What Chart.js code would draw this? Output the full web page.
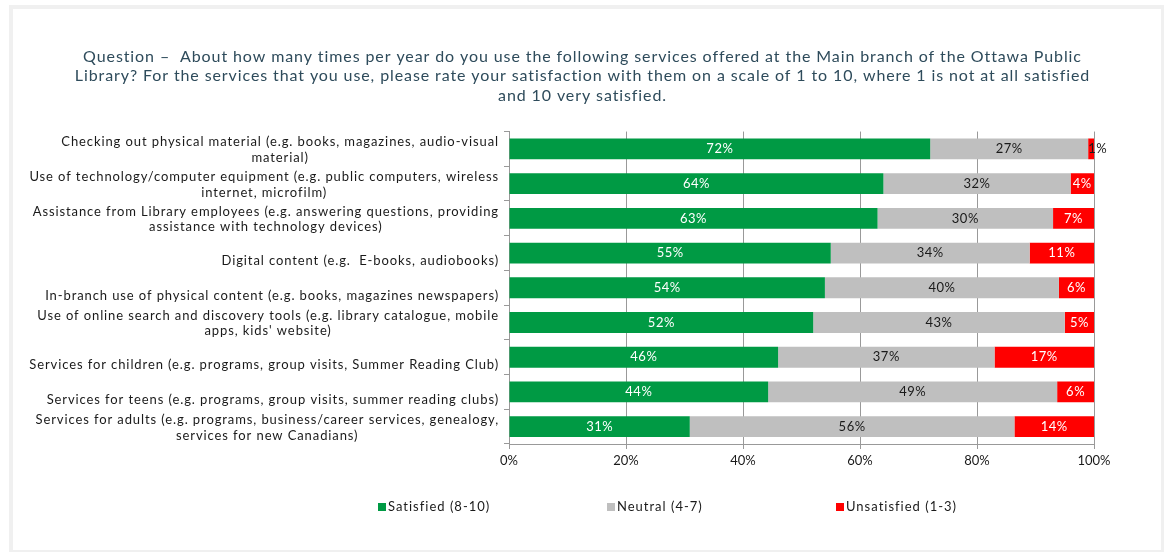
<!DOCTYPE html>
<html>
<head>
<meta charset="utf-8">
<script src="https://cdn.jsdelivr.net/npm/chart.js@4.4.1/dist/chart.umd.min.js"></script>
<style>
    body { margin: 0; background: #fff; width: 1165px; height: 552px; overflow: hidden; position: relative; font-family: Lato, sans-serif; }
    #moldura { position: absolute; left: 9px; top: 5px; width: 1155px; height: 547px; box-sizing: border-box;
               border-style: solid; border-color: #f0f0f0; border-width: 4px 3px 2px 4px; }
    #grafico { position: absolute; left: 0; top: 0; }
    #legenda { position: absolute; left: 378px; top: 499px; display: flex; font-size: 13px; line-height: 15px;
               letter-spacing: 1px; color: #1a1a1a; }
    #legenda .item { width: 229px; display: flex; align-items: center; }
    #legenda .cor { width: 8px; height: 8px; margin-right: 2px; }
</style>
</head>
<body>
<div id="moldura"></div>
<canvas id="grafico" width="1165" height="552"></canvas>
<div id="legenda"></div>
<script>
    // Dados do gráfico
    var titulo = [
        'Question –  About how many times per year do you use the following services offered at the Main branch of the Ottawa Public',
        'Library? For the services that you use, please rate your satisfaction with them on a scale of 1 to 10, where 1 is not at all satisfied',
        'and 10 very satisfied.'
    ];
    var categorias = [
        ['Checking out physical material (e.g. books, magazines, audio-visual', 'material)'],
        ['Use of technology/computer equipment (e.g. public computers, wireless', 'internet, microfilm)'],
        ['Assistance from Library employees (e.g. answering questions, providing', 'assistance with technology devices)'],
        'Digital content (e.g.  E-books, audiobooks)',
        'In-branch use of physical content (e.g. books, magazines newspapers)',
        ['Use of online search and discovery tools (e.g. library catalogue, mobile', 'apps, kids\' website)'],
        'Services for children (e.g. programs, group visits, Summer Reading Club)',
        'Services for teens (e.g. programs, group visits, summer reading clubs)',
        ['Services for adults (e.g. programs, business/career services, genealogy,', 'services for new Canadians)']
    ];
    var nomesSeries = ['Satisfied (8-10)', 'Neutral (4-7)', 'Unsatisfied (1-3)'];
    var satisfeitos = [72, 64, 63, 55, 54, 52, 46, 44.3, 30.9];
    var neutros = [27, 32, 30, 34, 40, 43, 37, 49.4, 55.5];
    var insatisfeitos = [1, 4, 7, 11, 6, 5, 17, 6.3, 13.6];
    var ticksX = [0, 20, 40, 60, 80, 100];

    var cores = ['#009A44', '#BFBFBF', '#FF0000'];
    var coresTexto = ['#ffffff', '#1a1a1a', '#ffffff'];
    var fonte = 'Lato';

    // Título com espaçamento entre letras, centralizado na largura toda do canvas
    const espacamentoTitulo = {
        id: 'espacamentoTitulo',
        beforeDraw(chart) {
            const t = chart.titleBlock;
            if (t && !t._espacado) {
                const desenhar = t.draw;
                t.draw = function() {
                    const c = chart.ctx;
                    c.save();
                    c.translate(chart.width / 2 - (t.left + t.right) / 2, 0);
                    c.letterSpacing = '0.9px';
                    desenhar.apply(this, arguments);
                    c.letterSpacing = '0px';
                    c.restore();
                };
                t._espacado = true;
            }
        }
    };

    // Rótulos das categorias: bloco alinhado à direita, linhas centralizadas entre si
    const rotulosEixo = {
        id: 'rotulosEixo',
        afterDraw(chart) {
            const escala = chart.scales.y;
            const ctx = chart.ctx;
            const alturaLinha = 15.5;
            ctx.save();
            ctx.font = '13px ' + fonte;
            ctx.letterSpacing = '0.9px';
            ctx.fillStyle = '#1a1a1a';
            ctx.textAlign = 'center';
            ctx.textBaseline = 'middle';
            categorias.forEach(function(rotulo, i) {
                const linhas = Array.isArray(rotulo) ? rotulo : [rotulo];
                const largura = Math.max.apply(null, linhas.map(l => ctx.measureText(l).width));
                const centroX = escala.right - 10 - largura / 2;
                const y = escala.getPixelForTick(i);
                const inicio = linhas.length > 1 ? y - (linhas.length - 1) * alturaLinha / 2 + 1 : y + 8;
                linhas.forEach(function(l, j) {
                    ctx.fillText(l, centroX, inicio + j * alturaLinha);
                });
            });
            ctx.restore();
        }
    };

    // Percentuais dentro das barras
    const rotulosValores = {
        id: 'rotulosValores',
        afterDatasetsDraw(chart) {
            const ctx = chart.ctx;
            ctx.save();
            ctx.font = '13px ' + fonte;
            ctx.letterSpacing = '0.5px';
            ctx.textBaseline = 'middle';
            chart.data.datasets.forEach(function(ds, d) {
                chart.getDatasetMeta(d).data.forEach(function(barra, i) {
                    const v = ds.data[i];
                    const texto = Math.round(v) + '%';
                    if (v < 2) {
                        // segmento muito estreito: texto começa na barra e sai para a direita
                        ctx.textAlign = 'left';
                        ctx.fillStyle = '#1a1a1a';
                        ctx.fillText(texto, barra.base, barra.y);
                    } else {
                        ctx.textAlign = 'center';
                        ctx.fillStyle = coresTexto[d];
                        ctx.fillText(texto, (barra.x + barra.base) / 2, barra.y);
                    }
                });
            });
            ctx.restore();
        }
    };

    const valores = [satisfeitos, neutros, insatisfeitos];

    const ctx = document.getElementById('grafico').getContext('2d');
    new Chart(ctx, {
        type: 'bar',
        data: {
            labels: categorias,
            datasets: valores.map(function(serie, d) {
                return {
                    label: nomesSeries[d],
                    data: serie,
                    backgroundColor: cores[d],
                    borderWidth: 0,
                    barPercentage: 0.6,
                    categoryPercentage: 1
                };
            })
        },
        options: {
            indexAxis: 'y',
            responsive: false,
            animation: false,
            layout: { padding: { left: 0, right: 71, top: 0, bottom: 78 } },
            plugins: {
                legend: { display: false },
                tooltip: { enabled: false },
                title: {
                    display: true,
                    text: titulo,
                    color: '#2E4B5B',
                    font: { family: fonte, size: 16, weight: 'normal', lineHeight: 1.22 },
                    padding: { top: 47, bottom: 26 }
                }
            },
            scales: {
                x: {
                    stacked: true,
                    min: 0,
                    max: 100,
                    afterBuildTicks: function(escala) {
                        escala.ticks = ticksX.map(v => ({ value: v }));
                    },
                    ticks: {
                        callback: v => v + '%',
                        color: '#1a1a1a',
                        font: { family: fonte, size: 13 },
                        padding: 4,
                        maxRotation: 0
                    },
                    grid: { color: '#999', tickLength: 5 },
                    border: { color: '#999' },
                    afterFit: function(escala) { escala.height = 30; }
                },
                y: {
                    stacked: true,
                    ticks: { display: false },
                    grid: { drawOnChartArea: false, offset: true, tickLength: 5, color: '#999' },
                    border: { color: '#999' },
                    afterFit: function(escala) { escala.width = 509; }
                }
            }
        },
        plugins: [espacamentoTitulo, rotulosEixo, rotulosValores]
    });

    // Legenda
    var legenda = document.getElementById('legenda');
    nomesSeries.forEach(function(nome, d) {
        var item = document.createElement('div');
        item.className = 'item';
        var cor = document.createElement('span');
        cor.className = 'cor';
        cor.style.background = cores[d];
        item.appendChild(cor);
        item.appendChild(document.createTextNode(nome));
        legenda.appendChild(item);
    });
</script>
</body>
</html>
